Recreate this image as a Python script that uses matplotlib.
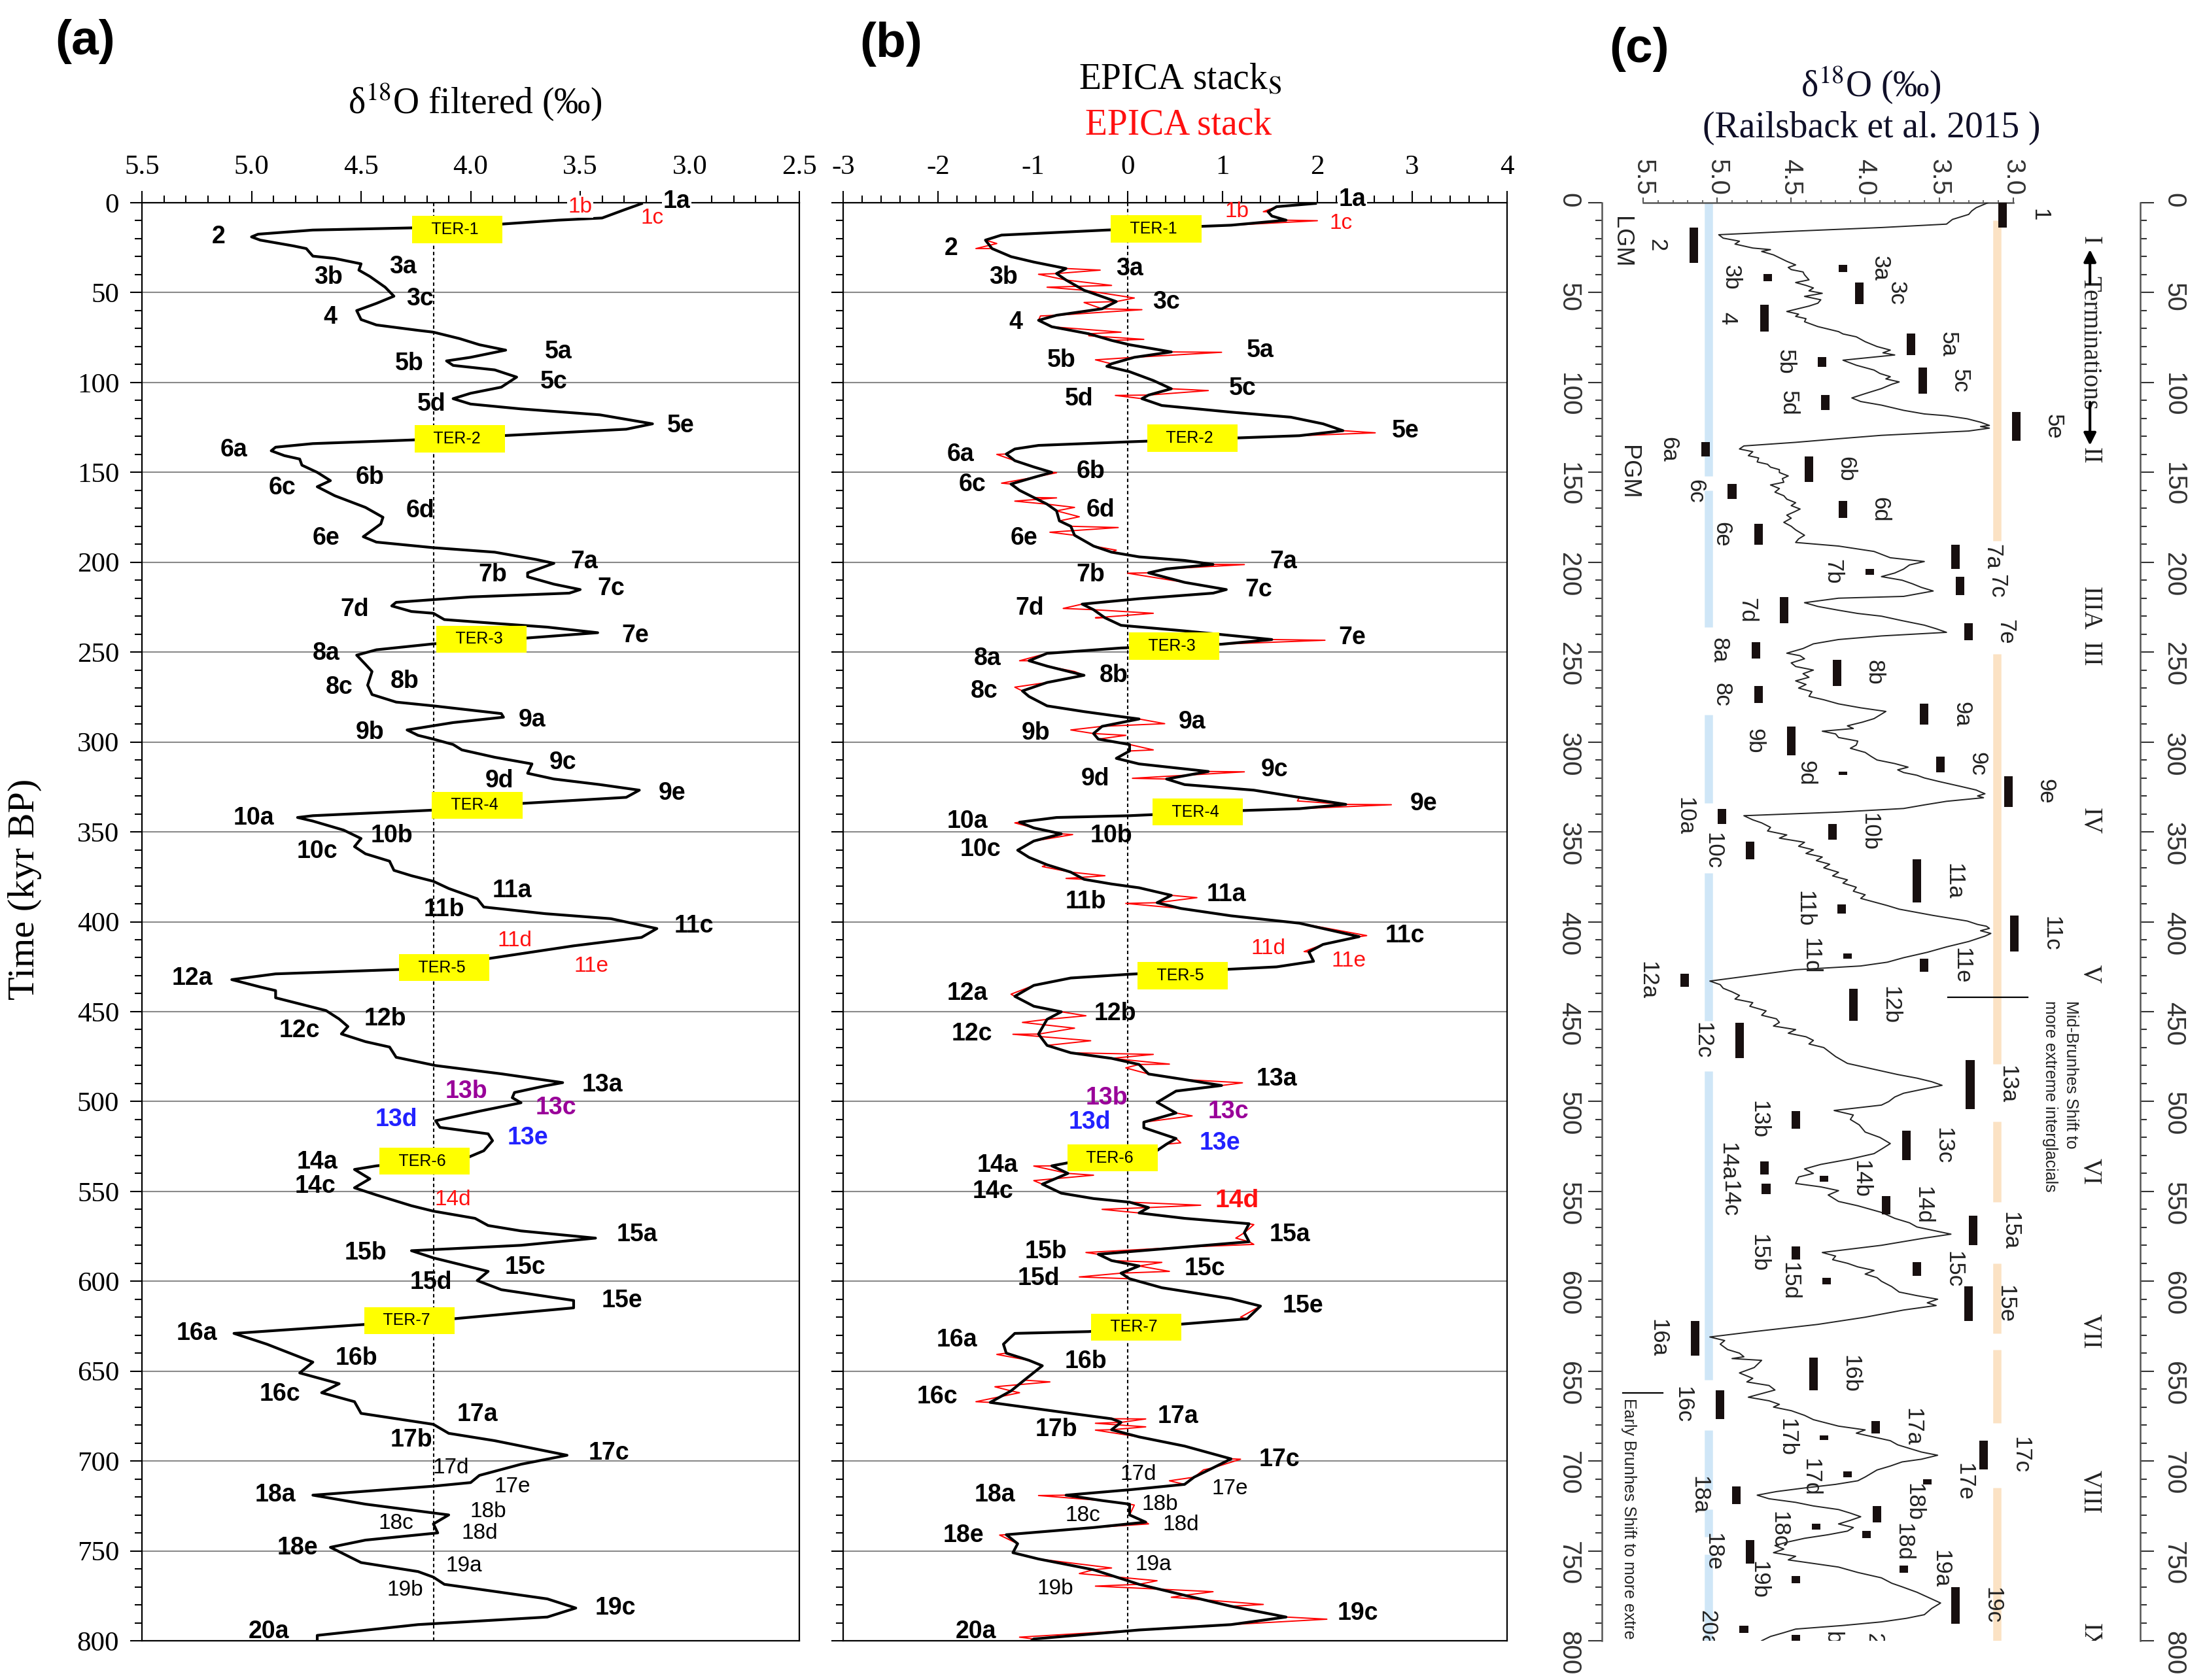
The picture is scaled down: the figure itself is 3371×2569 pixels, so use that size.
import numpy as np
import matplotlib
matplotlib.use('Agg')
from matplotlib import pyplot as plt

SERIF = ['Liberation Serif', 'DejaVu Serif']
SANS = ['Liberation Sans', 'DejaVu Sans']
NARROW = ['Liberation Sans Narrow', 'Liberation Sans', 'DejaVu Sans']

plt.rcParams['font.family'] = SERIF
plt.rcParams['mathtext.fontset'] = 'stix'
plt.rcParams['axes.unicode_minus'] = False

W, H = 3371, 2569

# ---------------- (a) filtered d18O ----------------
a_age = [0.5, 4, 8.5, 9.7, 11.9, 14, 15.2, 17.5, 19, 20.8, 24, 25.5, 29.7, 31, 34, 37.5, 41, 47, 52, 56,
         60, 65, 68, 71, 72, 75.6, 79, 82, 86, 88, 90.5, 93, 97, 102.6, 106, 109, 112, 114.7, 118, 123,
         126, 129.5, 132, 134, 136, 138, 140.7, 142.6, 146, 150, 154.6, 158, 163, 169.5, 175, 178.7,
         185.8, 188.8, 191.9, 194.4, 198.5, 200.6, 205.9, 208.1, 212.2, 215.2, 217.2, 219.3, 222.3,
         224.3, 227.4, 228.4, 231.9, 234, 236.1, 239.2, 242.4, 245.4, 248.7, 251.7, 256.8, 260.8,
         268.4, 273.6, 277.8, 279.9, 284.2, 286.2, 289.2, 293.3, 296.3, 298.4, 301.4, 304.4, 308.5,
         312.2, 317.4, 320.6, 323.7, 326.8, 330.8, 334.2, 337.9, 341, 342, 344, 349, 353.7, 358.2,
         362.2, 366.3, 371.4, 374.4, 377.5, 381.5, 387.2, 391.8, 395.5, 398.3, 403.8, 408.7, 413.4,
         420.7, 425.9, 429, 432.2, 436.3, 438.3, 442.3, 445.4, 449.4, 454.1, 458.3, 462.4, 466.7,
         469.7, 475.4, 480, 484.6, 489.5, 491.3, 495, 497.9, 500.7, 505.4, 510.7, 514.4, 518, 521.8,
         527.4, 531, 535.8, 537.8, 543, 548, 552, 558, 561, 565, 569, 572, 576, 580, 583, 587, 594.5,
         599.6, 604.7, 610.7, 614.8, 620.9, 624, 629, 635, 645, 651, 657, 662, 667, 673.5, 679.6,
         684.6, 688.7, 696.8, 701.8, 708, 712, 714, 719, 724, 730, 735, 740, 744, 748, 756.5, 761.5,
         764.6, 768.6, 776.7, 781.8, 786.8, 791, 797, 801]
a_d18o = [3.22, 3.30, 3.40, 3.60, 3.86, 4.27, 4.72, 4.97, 5.00, 4.96, 4.81, 4.75, 4.72, 4.62, 4.50, 4.51,
          4.46, 4.39, 4.35, 4.43, 4.52, 4.50, 4.43, 4.24, 4.17, 4.05, 3.96, 3.84, 4.00, 4.11, 4.08, 3.89,
          3.79, 3.86, 4.00, 4.08, 4.00, 3.77, 3.41, 3.17, 3.29, 3.84, 4.27, 4.72, 4.89, 4.91, 4.85, 4.78,
          4.77, 4.70, 4.64, 4.70, 4.62, 4.48, 4.40, 4.41, 4.49, 4.43, 4.17, 3.89, 3.70, 3.62, 3.74, 3.74,
          3.62, 3.50, 3.55, 4.00, 4.34, 4.36, 4.27, 4.17, 4.12, 3.89, 3.65, 3.42, 3.77, 4.17, 4.43, 4.52,
          4.48, 4.45, 4.47, 4.45, 4.34, 4.17, 3.86, 3.85, 4.08, 4.29, 4.24, 4.17, 4.08, 4.04, 3.89, 3.72,
          3.74, 3.62, 3.41, 3.23, 3.29, 3.77, 4.17, 4.72, 4.79, 4.72, 4.58, 4.50, 4.53, 4.48, 4.37, 4.35,
          4.27, 4.17, 4.10, 3.97, 3.94, 3.66, 3.36, 3.15, 3.22, 3.53, 3.93, 4.17, 4.89, 5.09, 4.96, 4.89,
          4.89, 4.79, 4.66, 4.60, 4.56, 4.59, 4.48, 4.37, 4.34, 4.16, 3.86, 3.58, 3.66, 3.80, 3.81, 3.77,
          3.96, 4.16, 4.14, 3.92, 3.90, 3.94, 4.01, 4.43, 4.53, 4.46, 4.53, 4.43, 4.27, 4.17, 3.98, 3.92,
          3.77, 3.43, 3.77, 4.27, 4.17, 3.92, 3.97, 3.86, 3.53, 3.53, 4.08, 4.48, 5.08, 4.93, 4.72, 4.78,
          4.60, 4.68, 4.53, 4.50, 4.17, 4.10, 3.89, 3.56, 3.77, 3.96, 4.00, 4.17, 4.72, 4.48, 4.10, 4.17,
          4.15, 4.48, 4.64, 4.50, 4.24, 4.17, 4.12, 3.65, 3.52, 3.65, 4.24, 4.70, 4.70]

# kinds: b bold black, n normal black, r red, rb red bold, p purple, u blue
a_labels = [("1a", 3.06, -0.6, 'b'), ("1b", 3.50, 2.2, 'r'), ("1c", 3.17, 8.7, 'r'), ("2", 5.15, 19, 'b'),
            ("3a", 4.31, 35.7, 'b'), ("3b", 4.65, 41.3, 'b'), ("3c", 4.23, 53.3, 'b'), ("4", 4.64, 63.6, 'b'),
            ("5a", 3.60, 83, 'b'), ("5b", 4.28, 89.6, 'b'), ("5c", 3.62, 99.8, 'b'), ("5d", 4.18, 112, 'b'),
            ("5e", 3.04, 124, 'b'), ("6a", 5.08, 137.5, 'b'), ("6b", 4.46, 152.8, 'b'), ("6c", 4.86, 158.7, 'b'),
            ("6d", 4.23, 171.4, 'b'), ("6e", 4.66, 186.6, 'b'), ("7a", 3.48, 199.6, 'b'), ("7b", 3.90, 206.9, 'b'),
            ("7c", 3.36, 214.6, 'b'), ("7d", 4.53, 226.4, 'b'), ("7e", 3.25, 240.9, 'b'), ("8a", 4.66, 250.7, 'b'),
            ("8b", 4.30, 266.3, 'b'), ("8c", 4.60, 269.5, 'b'), ("9a", 3.72, 287.6, 'b'), ("9b", 4.46, 294.5, 'b'),
            ("9c", 3.58, 311.3, 'b'), ("9d", 3.87, 321.7, 'b'), ("9e", 3.08, 328.5, 'b'), ("10a", 4.99, 342.5, 'b'),
            ("10b", 4.36, 352.3, 'b'), ("10c", 4.70, 360.9, 'b'), ("11a", 3.81, 382.7, 'b'), ("11b", 4.12, 393.2, 'b'),
            ("11c", 2.98, 402.4, 'b'), ("11d", 3.80, 410.7, 'r'), ("11e", 3.45, 424.9, 'r'), ("12a", 5.27, 431.6, 'b'),
            ("12b", 4.39, 454.2, 'b'), ("12c", 4.78, 460.5, 'b'), ("13a", 3.40, 490.6, 'b'), ("13b", 4.02, 494.5, 'p'),
            ("13c", 3.61, 503.5, 'p'), ("13d", 4.34, 510, 'u'), ("13e", 3.74, 520.3, 'u'), ("14a", 4.70, 533.8, 'b'),
            ("14c", 4.71, 547, 'b'), ("14d", 4.08, 554.7, 'r'), ("15a", 3.24, 573.9, 'b'), ("15b", 4.48, 584.4, 'b'),
            ("15c", 3.75, 592.1, 'b'), ("15d", 4.18, 600.6, 'b'), ("15e", 3.31, 610.7, 'b'), ("16a", 5.25, 629, 'b'),
            ("16b", 4.52, 643, 'b'), ("16c", 4.87, 663, 'b'), ("17a", 3.97, 674, 'b'), ("17b", 4.27, 688.3, 'b'),
            ("17c", 3.37, 695.7, 'b'), ("17d", 4.09, 703.8, 'n'), ("17e", 3.81, 714.4, 'n'), ("18a", 4.89, 719, 'b'),
            ("18b", 3.92, 728, 'n'), ("18c", 4.34, 734.8, 'n'), ("18d", 3.96, 740.3, 'n'), ("18e", 4.79, 748.4, 'b'),
            ("19a", 4.03, 758.5, 'n'), ("19b", 4.30, 771.7, 'n'), ("19c", 3.34, 781.8, 'b'), ("20a", 4.92, 795, 'b')]
a_ter = [("TER-1", 4.06, 14.9), ("TER-2", 4.05, 131.4), ("TER-3", 3.95, 242.8), ("TER-4", 3.97, 335.2),
         ("TER-5", 4.12, 425.5), ("TER-6", 4.21, 533.2), ("TER-7", 4.28, 621.9)]
a_mean = 4.17

# ---------------- (b) EPICA stack ----------------
b_age = [0.4, 2.2, 5, 7.4, 9.7, 12.5, 15.2, 18, 20.8, 25.5, 30, 33, 36.6, 39.4, 43, 48.7, 55, 59, 62.6, 65.4,
         69, 72.9, 76.6, 79, 83, 86, 89.6, 91, 94, 98.9, 103.5, 107, 109, 112.8, 116.5, 119.3, 123, 126.8,
         129.6, 133, 135, 137, 139.8, 143.5, 147, 150, 152.8, 156.5, 160, 164, 167.7, 171.4, 177, 180, 185,
         191, 194.4, 197, 199, 201.2, 203.7, 205.9, 211.2, 215.2, 217.2, 220.3, 223.3, 226.4, 230.9, 235.1,
         238.2, 243, 245.6, 247.7, 250.7, 254.8, 257.8, 262.9, 266.9, 271.6, 274.7, 279.9, 283.1, 285.2,
         287.2, 291.3, 295.3, 298.4, 301.4, 305, 309.1, 312.2, 316.4, 320.6, 323.7, 326.8, 330.8, 334.7,
         337.1, 338.1, 341, 342, 344.6, 347.8, 351.1, 355.1, 360.2, 364.2, 368.3, 372.4, 376.4, 379, 381.1,
         385.3, 389.4, 392.6, 396.7, 400.8, 408.3, 412.6, 416.8, 422, 425.1, 429.2, 431.3, 435.4, 441.5,
         447, 450.1, 454.3, 462.5, 468.8, 472.9, 476, 479.4, 484.7, 487.8, 491.1, 494.2, 500.5, 506.4,
         511.5, 514.6, 520.6, 523.7, 528.7, 533.8, 535.8, 540, 546, 551, 554, 556, 559, 562, 565, 568, 573,
         578, 581, 585, 588.5, 591.5, 595.5, 598.6, 603.6, 609.7, 613.8, 620.9, 628, 629, 635, 640, 644,
         647, 655, 661, 667.4, 670, 673.5, 676.5, 678.5, 682.6, 686.6, 691.7, 698.8, 703.8, 709, 713, 716,
         719, 722, 724, 730, 734, 737, 741, 746, 751, 754.5, 760.5, 768.6, 774.7, 780.8, 786.8, 791, 794,
         799, 801]
b_stack_s = [1.98, 1.57, 1.48, 1.52, 1.67, 1.09, -0.22, -1.33, -1.50, -1.43, -1.23, -0.99, -0.65, -0.75,
             -0.65, -0.46, -0.12, -0.27, -0.75, -0.94, -0.80, -0.41, -0.17, 0.02, 0.46, 0.07, -0.17, -0.22,
             0.02, 0.27, 0.46, 0.22, 0.15, 0.36, 1.09, 1.72, 2.06, 2.27, 1.81, 0.02, -0.94, -1.19, -1.28,
             -1.19, -0.99, -0.80, -0.99, -1.23, -1.14, -0.99, -0.85, -0.75, -0.72, -0.60, -0.56, -0.36, -0.17,
             0.12, 0.60, 0.90, 0.41, 0.22, 0.60, 1.04, 0.90, 0.12, -0.48, -0.36, -0.24, -0.07, 0.60, 1.52,
             0.99, -0.07, -0.85, -1.04, -0.85, -0.46, -0.85, -1.11, -1.04, -0.85, -0.46, -0.17, 0.12, -0.27,
             -0.36, -0.31, 0.02, 0.02, -0.12, 0.12, 0.85, 0.41, 0.60, 1.33, 1.81, 2.30, 1.81, 1.23, 0.02,
             -0.75, -1.14, -0.99, -0.70, -0.99, -1.16, -1.04, -0.85, -0.60, -0.46, -0.17, 0.12, 0.46, 0.31,
             0.56, 1.09, 1.81, 2.44, 2.06, 1.91, 1.96, 1.57, 0.02, -0.60, -0.99, -1.19, -0.99, -0.70, -0.85,
             -0.94, -0.85, -0.60, -0.17, 0.12, 0.22, 0.60, 0.99, 0.51, 0.31, 0.51, 0.17, 0.17, 0.51, 0.41,
             0.27, -0.60, -0.80, -0.63, -0.90, -0.70, -0.36, 0.02, 0.22, 0.12, 0.60, 1.28, 1.23, 1.28, 0.60,
             -0.31, -0.17, 0.12, -0.07, 0.02, 0.36, 1.09, 1.40, 1.26, -0.41, -1.19, -1.31, -1.28, -1.04,
             -0.90, -1.09, -1.23, -1.45, -1.09, -0.60, -0.17, -0.07, -0.17, 0.12, 0.60, 1.09, 0.90, 0.70,
             0.60, 0.02, -0.65, -0.27, 0.02, 0.02, 0.19, -0.36, -1.28, -1.16, -1.21, -0.94, -0.36, 0.12, 0.60,
             1.09, 1.67, 1.09, 0.12, -0.99, -1.04]
# raw stack excursions away from the smoothed curve
b_raw_age = [5, 10, 22.7, 25.5, 37.5, 39.8, 46, 47, 53, 55.5, 59.5, 63, 72, 74, 76, 83.2, 87.4, 104.5, 107.2,
             128, 140, 150.2, 156, 164.2, 166, 169.5, 174.7, 180.7, 183.3, 193.3, 201.3, 206.1, 225.7, 228.4,
             230.9, 243.4, 254.8, 260.8, 269.5, 289.8, 293.3, 296.3, 304.4, 316.6, 320.2, 332.8, 334.9, 345,
             351.5, 369.3, 374.4, 375.9, 386.6, 389.8, 407.7, 416.6, 440.3, 452.3, 456, 459.2, 462.6, 466.2,
             469.7, 473.8, 479.2, 481.3, 489.6, 508, 523, 535.9, 541, 544, 557.7, 560, 568.5, 576, 579.5, 584,
             589.5, 594.5, 597.6, 620, 640.7, 656, 658.7, 662, 667, 676.6, 679, 681, 682.8, 699, 704.9, 711,
             719.2, 724.5, 735, 741.2, 759.5, 762.6, 766.6, 769.6, 772.7, 775.8, 779.8, 788, 798]
b_raw_val = [1.43, 2.00, -1.38, -1.60, -0.29, -0.94, -0.17, -0.85, 0.07, -0.46, 0.15, -0.92, -0.07, -0.41,
             0.17, 0.99, -0.34, 0.85, -0.13, 2.61, -1.38, -0.75, -1.33, -0.75, -1.19, -0.56, -0.51, -0.10,
             -0.82, -0.12, 1.23, 0.00, -0.68, 0.27, -0.34, 2.08, -1.14, -0.56, -1.19, 0.39, -0.60, -0.02,
             0.27, 1.23, 0.05, 1.79, 2.78, -1.19, -0.58, -0.90, -0.24, -0.65, 0.73, -0.02, 2.52, 1.86, -1.23,
             -0.44, -1.11, -0.56, -1.21, -0.39, -0.80, 0.27, 0.44, -0.02, 1.21, 0.68, 0.56, -0.99, -0.36,
             -0.99, 0.77, -0.27, 1.33, 1.14, 1.33, -0.44, 0.36, 0.44, -0.51, 1.19, -1.38, -0.82, -1.40, -1.14,
             -1.60, 0.19, -0.34, 0.19, -0.34, 1.19, 0.80, 0.44, -0.94, 0.07, 0.22, -1.35, -0.17, -0.51, 0.31,
             -0.34, 0.90, 0.46, 1.43, 2.10, -1.14]

b_labels = [("1a", 2.37, -1.9, 'b'), ("1b", 1.15, 5, 'r'), ("1c", 2.25, 11.5, 'r'), ("2", -1.86, 25.5, 'b'),
            ("3a", 0.02, 36.6, 'b'), ("3b", -1.31, 41.3, 'b'), ("3c", 0.41, 55.2, 'b'), ("4", -1.18, 66.4, 'b'),
            ("5a", 1.40, 82.2, 'b'), ("5b", -0.70, 87.7, 'b'), ("5c", 1.21, 103.5, 'b'), ("5d", -0.51, 109.1, 'b'),
            ("5e", 2.93, 126.8, 'b'), ("6a", -1.76, 140.1, 'b'), ("6b", -0.39, 149.4, 'b'), ("6c", -1.64, 156.9, 'b'),
            ("6d", -0.29, 171, 'b'), ("6e", -1.09, 186.6, 'b'), ("7a", 1.64, 199.6, 'b'), ("7b", -0.39, 206.9, 'b'),
            ("7c", 1.38, 215.2, 'b'), ("7d", -1.03, 225.7, 'b'), ("7e", 2.37, 241.8, 'b'), ("8a", -1.48, 253.7, 'b'),
            ("8b", -0.15, 263.2, 'b'), ("8c", -1.51, 271.6, 'b'), ("9a", 0.68, 288.9, 'b'), ("9b", -0.97, 295.1, 'b'),
            ("9c", 1.55, 315.4, 'b'), ("9d", -0.34, 320.6, 'b'), ("9e", 3.12, 334.2, 'b'), ("10a", -1.69, 344, 'b'),
            ("10b", -0.17, 352.3, 'b'), ("10c", -1.55, 359.8, 'b'), ("11a", 1.04, 384.9, 'b'), ("11b", -0.44, 389, 'b'),
            ("11c", 2.92, 407.8, 'b'), ("11d", 1.48, 414.9, 'r'), ("11e", 2.33, 421.8, 'r'), ("12a", -1.69, 439.9, 'b'),
            ("12b", -0.13, 451, 'b'), ("12c", -1.64, 462.4, 'b'), ("13a", 1.57, 487.5, 'b'), ("13b", -0.22, 497.9, 'p'),
            ("13c", 1.06, 505.8, 'p'), ("13d", -0.40, 511.5, 'u'), ("13e", 0.97, 523.3, 'u'), ("14a", -1.37, 535.4, 'b'),
            ("14c", -1.42, 550, 'b'), ("14d", 1.15, 555, 'rb'), ("15a", 1.71, 573.9, 'b'), ("15b", -0.86, 583.4, 'b'),
            ("15c", 0.81, 592.9, 'b'), ("15d", -0.94, 598.6, 'b'), ("15e", 1.85, 613.8, 'b'), ("16a", -1.80, 632.6, 'b'),
            ("16b", -0.44, 644.7, 'b'), ("16c", -2.01, 664.4, 'b'), ("17a", 0.53, 675.1, 'b'), ("17b", -0.75, 682.6, 'b'),
            ("17c", 1.60, 699.4, 'b'), ("17d", 0.11, 707.5, 'n'), ("17e", 1.08, 715.4, 'n'), ("18a", -1.40, 719, 'b'),
            ("18b", 0.34, 724.1, 'n'), ("18c", -0.47, 730.2, 'n'), ("18d", 0.56, 735.6, 'n'), ("18e", -1.73, 741.3, 'b'),
            ("19a", 0.27, 757.5, 'n'), ("19b", -0.76, 771, 'n'), ("19c", 2.43, 784.8, 'b'), ("20a", -1.60, 795, 'b')]
b_ter = [("TER-1", 0.30, 14.5), ("TER-2", 0.68, 131), ("TER-3", 0.49, 246.7), ("TER-4", 0.74, 338.9),
         ("TER-5", 0.58, 430.1), ("TER-6", -0.16, 531.4), ("TER-7", 0.09, 625.5)]

# ---------------- (c) Railsback et al. 2015 ----------------
c_age = [0, 2.8, 4.6, 6.5, 9.3, 11.9, 13.8, 15.8, 17.8, 19.7, 21.4, 23, 25.2, 26.1, 27.1, 29, 30.6, 32.6,
         34.6, 36, 37.2, 38.5, 40.1, 42.9, 44.4, 46, 47.4, 49, 50.4, 52.1, 54, 55.9, 57.5, 58.7, 60.5, 62,
         63.2, 64.5, 66.2, 68.9, 71.7, 73, 74.6, 77.3, 80, 82, 83.5, 84.7, 86.6, 87.6, 90.4, 93.1, 95, 96.8,
         98, 99.7, 101, 103.4, 106.2, 108.6, 110.6, 112.6, 115.5, 117.5, 118.5, 120.2, 122.1, 123.9, 124.5,
         125.4, 127, 128.4, 129.4, 131.3, 133.3, 135.3, 137, 138.5, 140.7, 142, 144.2, 145.5, 147.1, 148.5,
         150.1, 152, 153.5, 155.5, 157, 159, 161, 163, 164.9, 166.9, 168.5, 170.4, 172, 173.8, 175.5, 177.8,
         180, 182, 185, 187, 189, 191, 194, 197.5, 199.6, 201.5, 203.8, 206, 208, 210, 212, 214, 216, 219,
         220, 222.5, 224.6, 226.7, 228.5, 230, 232.5, 235, 237, 239, 241, 243, 245.4, 248, 250.6, 252,
         253.7, 256, 258, 260, 262, 264, 266, 268, 270, 272, 274.6, 276.5, 278.8, 281, 283, 285, 287, 289,
         291, 292.5, 294, 295.5, 297.5, 299.5, 301.7, 303.5, 305.8, 308, 310, 312, 314, 315.5, 317, 318.5,
         320, 322, 324.6, 326.7, 327.8, 328.8, 330, 331, 333, 335, 337, 339, 341, 343.3, 345, 347.5, 349.5,
         351.7, 353.5, 355.8, 358, 360, 362, 364, 366, 368, 370, 372.5, 374.5, 376.7, 378.5, 380.8, 383,
         385, 387, 389, 391, 393, 396.5, 399.6, 401.5, 402.5, 403.7, 405, 406.5, 408, 411, 414, 417, 420,
         422.5, 424.6, 426.7, 433, 435, 437, 439, 441, 443, 445, 447, 449.6, 452, 454, 456, 458, 460, 462,
         464, 466, 468, 470, 472.5, 475, 478.8, 481, 483, 485, 487, 489, 491, 493, 495.4, 497.5, 500, 502,
         505, 507.5, 510, 513, 517, 520, 523.4, 526, 529, 532, 535, 537.5, 540, 542, 545.6, 547.5, 549.6,
         552, 555.6, 558, 561.7, 565, 567.5, 569.8, 573.8, 576, 580, 584, 586, 588, 590, 592, 594, 596, 598,
         600, 603, 606, 608, 610, 612, 613.5, 616, 620, 624, 628, 631, 633, 635, 638, 640, 642, 643, 644,
         648, 651, 654, 656, 658, 660.5, 662.5, 664.5, 666.5, 668.5, 670, 672, 674.6, 677, 680.6, 682.7,
         684.5, 686.5, 688.7, 691, 693, 695, 696.8, 699, 700.5, 702.8, 705, 708.9, 711, 713, 715, 717, 719,
         721, 723, 725, 727, 729, 731, 733, 735, 737, 739, 741, 743, 745, 747, 749, 751, 753, 755, 757, 759,
         762, 765, 768, 770, 773, 776, 779, 782, 785.5, 787.5, 789.5, 791.5, 793.5, 795.5, 797.6, 800]
c_d18o = [3.17, 3.25, 3.28, 3.30, 3.41, 3.45, 3.89, 4.47, 4.99, 4.96, 4.85, 4.88, 4.76, 4.64, 4.70, 4.62,
          4.58, 4.53, 4.47, 4.52, 4.50, 4.42, 4.41, 4.38, 4.47, 4.40, 4.35, 4.38, 4.29, 4.41, 4.30, 4.32,
          4.38, 4.44, 4.53, 4.45, 4.47, 4.40, 4.41, 4.32, 4.18, 4.15, 4.06, 4.00, 3.92, 3.83, 3.88, 3.80,
          4.03, 4.15, 4.06, 3.94, 3.90, 3.83, 3.86, 3.77, 3.82, 3.89, 4.00, 4.09, 4.03, 3.89, 3.74, 3.60,
          3.45, 3.31, 3.22, 3.16, 3.22, 3.16, 3.30, 3.65, 3.89, 4.18, 4.47, 4.82, 4.85, 4.76, 4.79, 4.72,
          4.73, 4.66, 4.64, 4.58, 4.58, 4.52, 4.56, 4.55, 4.64, 4.58, 4.61, 4.55, 4.53, 4.47, 4.50, 4.44,
          4.48, 4.53, 4.50, 4.55, 4.50, 4.47, 4.41, 4.45, 4.47, 4.18, 3.94, 3.83, 3.60, 3.70, 3.74, 3.80,
          3.89, 3.75, 3.68, 3.62, 3.54, 3.74, 4.18, 4.41, 4.32, 4.18, 4.05, 3.89, 3.75, 3.60, 3.52, 3.45,
          3.89, 4.18, 4.35, 4.42, 4.53, 4.44, 4.41, 4.50, 4.47, 4.35, 4.42, 4.38, 4.47, 4.40, 4.45, 4.36,
          4.38, 4.28, 4.18, 4.03, 3.86, 3.90, 3.94, 4.02, 4.12, 4.08, 4.29, 4.20, 4.18, 4.05, 4.06, 4.10,
          4.00, 3.96, 3.92, 3.80, 3.71, 3.78, 3.74, 3.65, 3.60, 3.50, 3.36, 3.25, 3.22, 3.19, 3.24, 3.20,
          3.45, 3.60, 3.74, 4.18, 4.82, 4.76, 4.70, 4.64, 4.66, 4.53, 4.58, 4.41, 4.45, 4.35, 4.40, 4.29,
          4.33, 4.24, 4.28, 4.18, 4.22, 4.12, 4.15, 4.06, 4.08, 4.00, 4.03, 3.94, 3.85, 3.77, 3.54, 3.31,
          3.24, 3.18, 3.16, 3.22, 3.15, 3.19, 3.30, 3.45, 3.58, 3.74, 3.85, 4.03, 4.47, 5.05, 4.98, 4.96,
          4.90, 4.85, 4.88, 4.76, 4.78, 4.67, 4.70, 4.60, 4.58, 4.62, 4.47, 4.52, 4.40, 4.35, 4.38, 4.28,
          4.24, 4.20, 4.12, 4.00, 3.89, 3.78, 3.65, 3.55, 3.48, 3.60, 3.74, 3.80, 3.84, 3.89, 4.21, 4.08,
          4.10, 4.04, 4.00, 3.90, 3.83, 3.88, 3.94, 4.10, 4.30, 4.41, 4.35, 4.45, 4.47, 4.30, 4.18, 4.25,
          4.18, 4.05, 3.89, 3.80, 3.70, 3.65, 3.42, 3.60, 3.89, 4.29, 4.20, 4.22, 4.12, 4.05, 3.94, 4.00,
          3.92, 3.89, 3.82, 3.77, 3.65, 3.51, 3.58, 3.52, 3.74, 4.00, 4.32, 4.75, 5.05, 4.95, 4.98, 4.93,
          4.85, 4.82, 4.90, 4.70, 4.75, 4.85, 4.76, 4.80, 4.65, 4.61, 4.70, 4.79, 4.65, 4.58, 4.62, 4.50,
          4.41, 4.35, 4.18, 4.00, 4.06, 3.95, 3.83, 3.78, 3.70, 3.62, 3.51, 3.62, 3.75, 3.83, 3.92, 4.00,
          4.05, 4.20, 4.41, 4.60, 4.73, 4.65, 4.47, 4.35, 4.18, 4.10, 4.03, 4.10, 4.18, 4.08, 4.12, 4.25,
          4.41, 4.52, 4.61, 4.55, 4.62, 4.47, 4.52, 4.35, 4.18, 4.05, 3.89, 3.82, 3.75, 3.65, 3.57, 3.49,
          3.55, 3.60, 3.72, 3.89, 4.15, 4.47, 4.55, 4.64, 4.70]

# stage bars: (stage, d18O, start age, end age)
c_bars = [("1", 3.07, 0, 13.8), ("2", 5.16, 13.8, 33.6), ("3a", 4.15, 34.6, 38.5), ("3b", 4.66, 39.5, 43.5),
          ("3c", 4.04, 44.4, 56.3), ("4", 4.68, 56.8, 71.7), ("5a", 3.69, 72.7, 84.9), ("5b", 4.29, 85.9, 91.4),
          ("5c", 3.61, 91.8, 106.2), ("5d", 4.27, 107.1, 115.5), ("5e", 2.98, 116.5, 132.3), ("6a", 5.08, 133.3, 141.2),
          ("6b", 4.38, 141.2, 155.5), ("6c", 4.90, 156.5, 164.9), ("6d", 4.15, 165.9, 175.3), ("6e", 4.72, 178.7, 190.2),
          ("7a", 3.39, 190.2, 203.7), ("7b", 3.97, 203.7, 207), ("7c", 3.36, 208, 218.3), ("7d", 4.55, 219.4, 234),
          ("7e", 3.30, 234, 243.4), ("8a", 4.74, 244.4, 253.4), ("8b", 4.19, 254.2, 268.8), ("8c", 4.72, 268.8, 278.4),
          ("9a", 3.60, 278.8, 290.3), ("9b", 4.50, 291.4, 307.4), ("9c", 3.49, 308, 316.8), ("9d", 4.15, 316.4, 318.5),
          ("9e", 3.03, 318.9, 336.2), ("10a", 4.97, 337.3, 345.6), ("10b", 4.22, 345.6, 354.4), ("10c", 4.78, 355.6, 365.4),
          ("11a", 3.65, 365.4, 389.4), ("11b", 4.16, 390.5, 395.3), ("11c", 2.99, 396.7, 416.5), ("11d", 4.12, 417.6, 420.7),
          ("11e", 3.60, 420.7, 428), ("12a", 5.22, 429, 436.3), ("12b", 4.08, 437.4, 455.1), ("12c", 4.85, 456.2, 476),
          ("13a", 3.29, 477, 504.2), ("13b", 4.47, 505.2, 515.3), ("13c", 3.72, 516.4, 532.5), ("14a", 4.68, 533.5, 540.6),
          ("14b", 4.28, 541.5, 544.6), ("14c", 4.67, 545.6, 551.6), ("14d", 3.86, 552.6, 562.7), ("15a", 3.27, 563.7, 579.8),
          ("15b", 4.47, 580.8, 588), ("15c", 3.65, 589.5, 597), ("15d", 4.26, 598, 601.6), ("15e", 3.30, 603, 622),
          ("16a", 5.15, 622, 641.3), ("16b", 4.35, 642.3, 660.5), ("16c", 4.98, 660.5, 676.6), ("17a", 3.93, 677.6, 684.7),
          ("17b", 4.28, 685.7, 688.3), ("17c", 3.20, 688.7, 704.8), ("17d", 4.12, 705.8, 709), ("17e", 3.58, 710, 713),
          ("18a", 4.87, 714, 724), ("18b", 3.92, 725, 734), ("18c", 4.33, 735, 738), ("18d", 3.99, 738.7, 743),
          ("18e", 4.78, 744, 757), ("19a", 3.74, 758, 762), ("19b", 4.47, 764, 768), ("19c", 3.39, 770, 790.5),
          ("20a", 4.82, 791.5, 795.5), ("20b", 4.47, 796.6, 800.6)]
c_bar_shown = {"20b": "b"}
# label centre ages where the label sits off its bar
c_label_age = {"14a": 533.5, "14c": 554, "18b": 723, "18d": 745, "17d": 709, "18c": 738}
c_glacial_line = 5.06
c_glacial_spans = [(0, 152), (160, 236), (285, 334), (373, 455), (483, 655), (683, 716), (727, 742), (752, 800)]
c_interglacial_line = 3.11
c_interglacial_spans = [(10, 188), (251, 479), (511, 556), (590, 629), (638, 679), (715, 800)]
c_terminations = [("I", 20.8), ("II", 140.6), ("IIIA", 225.5), ("III", 251), ("IV", 344), ("V", 429),
                  ("VI", 539), ("VII", 628), ("VIII", 717), ("IX", 797.6)]
c_xticks = [5.5, 5.0, 4.5, 4.0, 3.5, 3.0]

LABEL_STYLE = {
    'b': dict(color='black', fontweight='bold', fontsize=27),
    'n': dict(color='black', fontsize=24),
    'r': dict(color='#ff1010', fontsize=24),
    'rb': dict(color='#ff1010', fontweight='bold', fontsize=28),
    'p': dict(color='#990099', fontweight='bold', fontsize=27),
    'u': dict(color='#2222ff', fontweight='bold', fontsize=27),
}


def fx(px):
    return px / W


def fy(py):
    return 1 - py / H


def setup_stack_axes(ax, xlim, major, minor):
    ax.set_xlim(*xlim)
    ax.set_ylim(800, 0)
    ax.xaxis.tick_top()
    ax.set_xticks(major)
    ax.set_xticks(minor, minor=True)
    ax.set_yticks(np.arange(0, 801, 50))
    ax.set_yticks(np.arange(0, 801, 10), minor=True)
    ax.tick_params(which='major', direction='out', length=13, width=1.5, labelsize=31, pad=12)
    ax.tick_params(which='minor', direction='out', length=8, width=1.5)
    for s in ax.spines.values():
        s.set_linewidth(1.6)
    for t in range(50, 800, 50):
        ax.axhline(t, color='#8a8a8a', lw=1.5, zorder=1)


def add_labels(ax, labels, ter):
    for text, x, y, kind in labels:
        kw = dict(LABEL_STYLE[kind])
        extra = {}
        if y < 3:
            extra = dict(bbox=dict(facecolor='white', edgecolor='none', pad=1), clip_on=False)
        ax.text(x, y, text, ha='center', va='center', family=SANS, zorder=5, **kw, **extra)
    for text, x, y in ter:
        ax.text(x, y, '   ' + text + '    ', ha='center', va='center', family=SANS, fontsize=18,
                zorder=6, bbox=dict(boxstyle='square,pad=0.35', facecolor='#ffff00', edgecolor='none'))


fig = plt.figure(figsize=(W / 100, H / 100), dpi=100)
ax_a = fig.add_axes([fx(217), fy(2509), fx(1222) - fx(217), fy(310) - fy(2509)])
ax_b = fig.add_axes([fx(1289), fy(2509), fx(2304) - fx(1289), fy(310) - fy(2509)])
ax_c = fig.add_axes([fx(2449), fy(2509), fx(3272) - fx(2449), fy(310) - fy(2509)])

# panel (a)
setup_stack_axes(ax_a, (5.5, 2.5), np.arange(2.5, 5.51, 0.5), np.arange(2.5, 5.51, 0.1))
ax_a.xaxis.set_major_formatter(matplotlib.ticker.FormatStrFormatter('%.1f'))
ax_a.axvline(a_mean, color='black', lw=1.5, ls=(0, (2.5, 2)), zorder=2)
ax_a.plot(a_d18o, a_age, color='black', lw=3, solid_joinstyle='round', zorder=4)
add_labels(ax_a, a_labels, a_ter)

# panel (b)
setup_stack_axes(ax_b, (-3, 4), np.arange(-3, 4.1, 1), np.arange(-3, 4.01, 0.2))
ax_b.tick_params(axis='y', labelleft=False)
ax_b.axvline(0, color='black', lw=1.5, ls=(0, (2.5, 2)), zorder=2)
raw = sorted(zip(b_age + b_raw_age, b_stack_s + b_raw_val))
ax_b.plot([v for _, v in raw], [t for t, _ in raw], color='#ff0000', lw=1.4, zorder=3)
ax_b.plot(b_stack_s, b_age, color='black', lw=3, solid_joinstyle='round', zorder=4)
add_labels(ax_b, b_labels, b_ter)

# panel (c): a rotated copy of the Railsback figure, so every text reads top to bottom
ax_c.set_xlim(5.78, 2.14)
ax_c.set_ylim(800, 0)
ax_c.xaxis.tick_top()
ax_c.set_xticks(c_xticks)
ax_c.set_xticks(np.arange(3.0, 5.55, 0.1), minor=True)
ax_c.set_yticks(np.arange(0, 801, 50))
ax_c.set_yticks(np.arange(0, 801, 10), minor=True)
ax_c.spines['top'].set_bounds(3.0, 5.5)
ax_c.spines['bottom'].set_visible(False)
for s in ax_c.spines.values():
    s.set_linewidth(1.8)
    s.set_color('#555555')
ax_c.tick_params(axis='x', which='major', length=6, width=1.5, colors='#555555', labeltop=False)
ax_c.tick_params(axis='x', which='minor', length=3, width=1.2, colors='#555555')
ax_c.tick_params(axis='y', which='both', left=True, right=True, labelleft=True, labelright=True,
                 colors='#333333')
ax_c.tick_params(axis='y', which='major', length=15, width=1.5, pad=8, labelsize=29)
ax_c.tick_params(axis='y', which='minor', length=7, width=1.5)
for tk in ax_c.yaxis.get_major_ticks():
    for lab in (tk.label1, tk.label2):
        lab.set_family(NARROW)
        lab.set_rotation(-90)
for v in c_xticks:
    ax_c.annotate(f'{v:.1f}', xy=(v, 1), xycoords=('data', 'axes fraction'), xytext=(0, 8),
                  textcoords='offset points', rotation=-90, ha='center', va='bottom',
                  family=NARROW, fontsize=29, color='#333333', annotation_clip=False)

for lo, hi in c_glacial_spans:
    ax_c.plot([c_glacial_line] * 2, [lo, hi], color='#cfe6f7', lw=9, solid_capstyle='butt', zorder=1)
for lo, hi in c_interglacial_spans:
    ax_c.plot([c_interglacial_line] * 2, [lo, hi], color='#fbe2c4', lw=9, solid_capstyle='butt', zorder=1)
ax_c.plot(c_d18o, c_age, color='#222222', lw=1.4, zorder=3)

for stage, val, a0, a1 in c_bars:
    ax_c.bar(val, a1 - a0, bottom=a0, width=0.058, color='#170f0f', zorder=4)
    num = int(''.join(ch for ch in stage if ch.isdigit()))
    letter = stage[-1] if stage[-1].isalpha() else ''
    warm = (num % 2 == 1) == (letter in ('', 'a', 'c', 'e'))
    off = -0.25 if warm else 0.25
    ax_c.text(val + off, c_label_age.get(stage, (a0 + a1) / 2), c_bar_shown.get(stage, stage), rotation=-90,
              ha='center', va='center', family=NARROW, fontsize=25, color='#222222', clip_on=True, zorder=5)
ax_c.text(3.94, 806, '20c', rotation=-90, ha='center', va='center', family=NARROW, fontsize=25,
          color='#222222', clip_on=True)

ax_c.text(5.65, 22, 'LGM', rotation=-90, ha='center', va='center', family=NARROW, fontsize=26, color='#222222')
ax_c.text(5.60, 150, 'PGM', rotation=-90, ha='center', va='center', family=NARROW, fontsize=26, color='#222222')

for name, t in c_terminations:
    ax_c.text(2.48, t, name, rotation=-90, ha='center', va='center', family=SERIF, fontsize=28,
              color='#222222', clip_on=True)
ax_c.text(2.48, 78, 'Terminations', rotation=-90, ha='center', va='center', family=SERIF, fontsize=28,
          color='#222222')
ax_c.annotate('', xy=(2.48, 25), xytext=(2.48, 46),
              arrowprops=dict(arrowstyle='-|>', color='black', lw=3, mutation_scale=28))
ax_c.annotate('', xy=(2.48, 136), xytext=(2.48, 110),
              arrowprops=dict(arrowstyle='-|>', color='black', lw=3, mutation_scale=28))

ax_c.plot([3.44, 2.90], [442, 442], color='black', lw=1.6, zorder=3)
ax_c.text(2.61, 444, 'Mid-Brunhes Shift to', rotation=-90, rotation_mode='anchor', ha='left',
          va='center', family=NARROW, fontsize=18, color='#222222')
ax_c.text(2.75, 444, 'more extreme interglacials', rotation=-90, rotation_mode='anchor', ha='left',
          va='center', family=NARROW, fontsize=18, color='#222222')
ax_c.plot([5.64, 5.37], [662, 662], color='black', lw=1.6, zorder=3)
ax_c.text(5.60, 665, 'Early Brunhes Shift to more extreme glacials', rotation=-90, rotation_mode='anchor',
          ha='left', va='center', family=NARROW, fontsize=18, color='#222222', clip_on=True)

# titles and panel letters
fig.text(fx(726), fy(156), r'δ$^{18}$O filtered (‰)', ha='center', va='center', fontsize=40, family=SERIF)
fig.text(fx(1804), fy(122), r'EPICA stack$_{\mathrm{S}}$', ha='center', va='center', fontsize=40, family=SERIF)
fig.text(fx(1802), fy(191), 'EPICA stack', ha='center', va='center', fontsize=40, family=SERIF, color='#ff1010')
fig.text(fx(2860), fy(130), r'δ$^{18}$O (‰)', ha='center', va='center', fontsize=40, family=SERIF,
         color='#101028')
fig.text(fx(2861), fy(196), '(Railsback et al. 2015 )', ha='center', va='center', fontsize=40,
         family=SERIF, color='#101028')
fig.text(fx(38), fy(1360), 'Time (kyr BP)', rotation=90, ha='center', va='center', fontsize=42, family=SERIF)
for letter, x, y in [('(a)', 130, 64), ('(b)', 1362, 68), ('(c)', 2506, 75)]:
    fig.text(fx(x), fy(y), letter, ha='center', va='center', fontsize=54, fontweight='bold', family=SANS)

fig.savefig('out.png', dpi=100)
